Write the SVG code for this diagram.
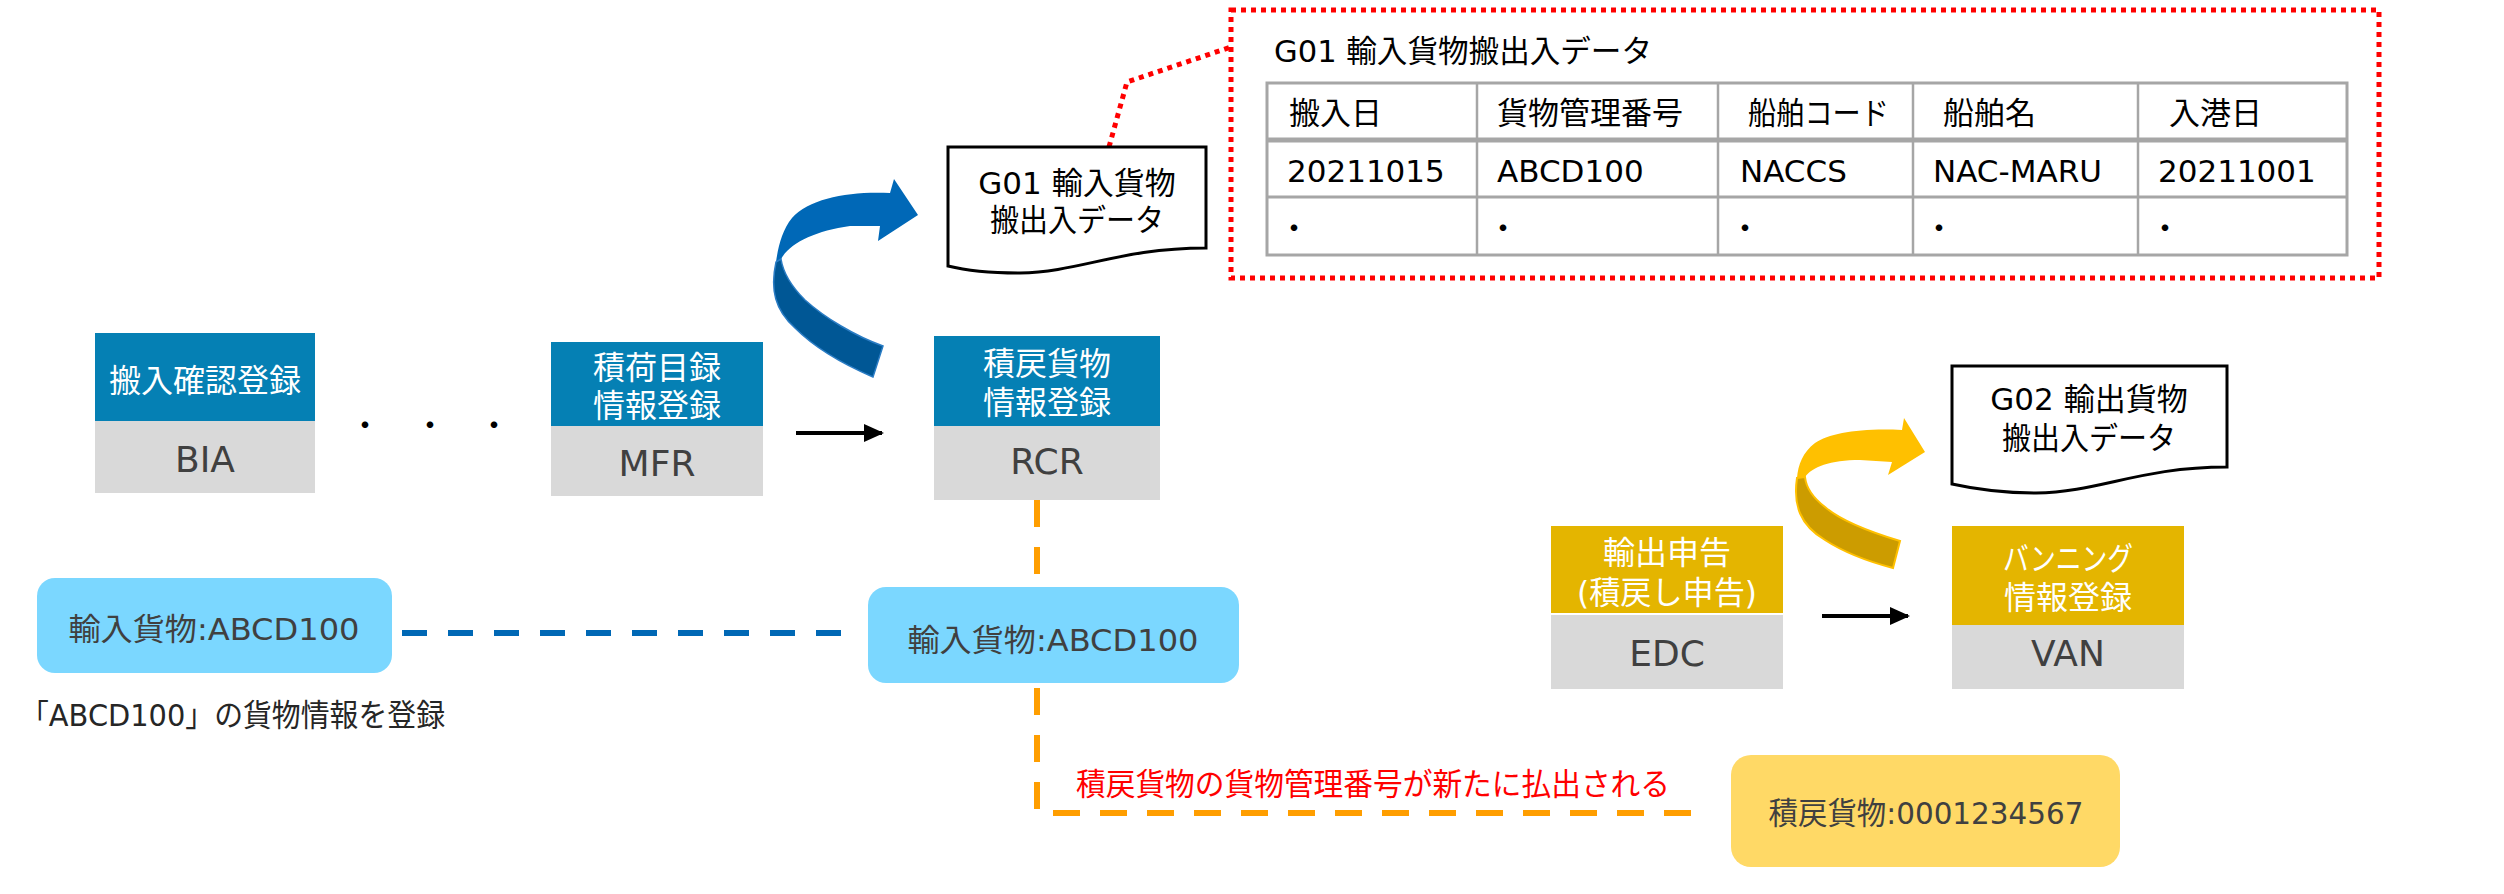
<svg xmlns="http://www.w3.org/2000/svg" width="2504" height="894" viewBox="0 0 2504 894">
<style>
text{font-family:"DejaVu Sans","Noto Sans CJK JP",sans-serif}
.hd{fill:#fff;font-size:32px;text-anchor:middle}
.cd{fill:#404040;font-size:36px;text-anchor:middle}
.blue{fill:#0580B4}
.gold{fill:#E4B500}
.gray{fill:#D9D9D9}
.doc{fill:#fff;stroke:#000;stroke-width:3}
.dt{fill:#000;font-size:31px;text-anchor:middle}
.tb{fill:#000;font-size:31px}
.dot{fill:#000;font-size:31px;text-anchor:middle}
.pill{font-size:31px;fill:#404040;text-anchor:middle}
.tl{stroke:#A6A6A6;fill:none}
</style>
<defs>
<marker id="ah" markerUnits="userSpaceOnUse" markerWidth="20" markerHeight="18" refX="18" refY="9" orient="auto">
<path d="M0,0 L20,9 L0,18 Z" fill="#000"/>
</marker>
</defs>

<g id="connectors">
<path d="M1037,500 V813 H1711" fill="none" stroke="#FF9E00" stroke-width="6" stroke-dasharray="27 20"/>
<path d="M402,633 H851" fill="none" stroke="#0068B5" stroke-width="6" stroke-dasharray="25 21"/>
<path d="M796,433 H882" stroke="#000" stroke-width="4" marker-end="url(#ah)"/>
<path d="M1822,616 H1908" stroke="#000" stroke-width="4" marker-end="url(#ah)"/>
<path d="M1109,147 L1127,82 L1231,47" fill="none" stroke="#FF0000" stroke-width="5" stroke-dasharray="5 5"/>
<g id="blue-arrow">
<path d="M890,193 C850,191 810,198 792,218 C782,230 778,248 776,262 L781,259 C790,243 815,231 850,226 L880,226 L878,241 L918,215 L894,179 Z" fill="#0068B7"/>
<path d="M776,262 C770,290 775,310 795,328 C815,348 845,365 873,377 L883,346 C855,336 825,318 805,300 C790,285 783,272 781,259 Z" fill="#005795" stroke="#2a7cc4" stroke-width="1.5"/>
</g>
<g id="gold-arrow">
<path d="M1902,430 C1860,428 1830,433 1815,443 C1803,452 1798,465 1797,478 L1805,477 C1812,467 1830,460 1860,460 L1892,462 L1888,475 L1925,452 L1904,418 Z" fill="#FFC000"/>
<path d="M1797,478 C1793,505 1800,525 1825,540 C1845,553 1870,562 1893,568 L1900,541 C1870,532 1840,520 1825,507 C1812,497 1806,487 1805,477 Z" fill="#CC9C00" stroke="#FFC000" stroke-width="2"/>
</g>
</g>

<g id="node-BIA">
<rect class="blue" x="95" y="333" width="220" height="88"/>
<rect class="gray" x="95" y="421" width="220" height="72"/>
<text class="hd" x="205" y="392">搬入確認登録</text>
<text class="cd" x="205" y="472">BIA</text>
</g>

<g id="dots">
<text class="dot" x="365" y="436" font-size="32">・</text>
<text class="dot" x="430" y="436" font-size="32">・</text>
<text class="dot" x="494" y="436" font-size="32">・</text>
</g>

<g id="node-MFR">
<rect class="blue" x="551" y="342" width="212" height="84"/>
<rect class="gray" x="551" y="426" width="212" height="70"/>
<text class="hd" x="657" y="379">積荷目録</text>
<text class="hd" x="657" y="417">情報登録</text>
<text class="cd" x="657" y="476">MFR</text>
</g>

<g id="node-RCR">
<rect class="blue" x="934" y="336" width="226" height="90"/>
<rect class="gray" x="934" y="426" width="226" height="74"/>
<text class="hd" x="1047" y="375">積戻貨物</text>
<text class="hd" x="1047" y="414">情報登録</text>
<text class="cd" x="1047" y="474">RCR</text>
</g>

<g id="doc-G01">
<path class="doc" d="M948,147 H1206 V248 C1120,248 1080,272 1020,273 C985,273 960,269 948,266 Z"/>
<text class="dt" x="1077" y="194">G01 輸入貨物</text>
<text class="dt" x="1077" y="231" textLength="174" lengthAdjust="spacingAndGlyphs">搬出入データ</text>
</g>

<g id="table-G01">
<rect x="1231" y="10" width="1148" height="268" fill="none" stroke="#FF0000" stroke-width="5" stroke-dasharray="5 5"/>
<text class="tb" x="1274" y="62" textLength="378" lengthAdjust="spacingAndGlyphs">G01 輸入貨物搬出入データ</text>
<rect class="tl" x="1267" y="83" width="1080" height="172" stroke-width="3"/>
<path class="tl" d="M1267,140 H2347" stroke-width="5"/>
<path class="tl" d="M1267,197 H2347" stroke-width="3"/>
<path class="tl" d="M1477,83 V255 M1718,83 V255 M1913,83 V255 M2138,83 V255" stroke-width="2.5"/>
<text class="tb" x="1289" y="124">搬入日</text>
<text class="tb" x="1497" y="124">貨物管理番号</text>
<text class="tb" x="1748" y="124" textLength="141" lengthAdjust="spacingAndGlyphs">船舶コード</text>
<text class="tb" x="1943" y="124">船舶名</text>
<text class="tb" x="2169" y="124">入港日</text>
<text class="tb" x="1287" y="182">20211015</text>
<text class="tb" x="1497" y="182">ABCD100</text>
<text class="tb" x="1740" y="182">NACCS</text>
<text class="tb" x="1933" y="182">NAC-MARU</text>
<text class="tb" x="2158" y="182">20211001</text>
<text class="dot" x="1294" y="239">・</text>
<text class="dot" x="1503" y="239">・</text>
<text class="dot" x="1745" y="239">・</text>
<text class="dot" x="1939" y="239">・</text>
<text class="dot" x="2165" y="239">・</text>
</g>

<g id="node-EDC">
<rect class="gold" x="1551" y="526" width="232" height="87"/>
<rect class="gray" x="1551" y="615" width="232" height="74"/>
<text class="hd" x="1667" y="564">輸出申告</text>
<text class="hd" x="1667" y="604" textLength="180" lengthAdjust="spacingAndGlyphs">(積戻し申告)</text>
<text class="cd" x="1667" y="666">EDC</text>
</g>

<g id="node-VAN">
<rect class="gold" x="1952" y="526" width="232" height="99"/>
<rect class="gray" x="1952" y="625" width="232" height="64"/>
<text class="hd" x="2068" y="570" textLength="130" lengthAdjust="spacingAndGlyphs">バンニング</text>
<text class="hd" x="2068" y="609">情報登録</text>
<text class="cd" x="2068" y="666">VAN</text>
</g>

<g id="doc-G02">
<path class="doc" d="M1952,366 H2227 V467 C2140,467 2100,492 2036,493 C1995,493 1970,488 1952,484 Z"/>
<text class="dt" x="2089" y="410">G02 輸出貨物</text>
<text class="dt" x="2089" y="449" textLength="174" lengthAdjust="spacingAndGlyphs">搬出入データ</text>
</g>

<g id="pill-import-left">
<rect x="37" y="578" width="355" height="95" rx="18" fill="#7BD7FF"/>
<text class="pill" x="214" y="640" textLength="291" lengthAdjust="spacingAndGlyphs">輸入貨物:ABCD100</text>
</g>
<g id="note-register">
<text x="20" y="726" font-size="31" fill="#262626" textLength="425" lengthAdjust="spacingAndGlyphs">「ABCD100」の貨物情報を登録</text>
</g>

<g id="pill-import-right">
<rect x="868" y="587" width="371" height="96" rx="18" fill="#7BD7FF"/>
<text class="pill" x="1053" y="651" textLength="291" lengthAdjust="spacingAndGlyphs">輸入貨物:ABCD100</text>
</g>

<g id="note-new-number">
<text x="1076" y="795" font-size="31" fill="#FF0000" textLength="594" lengthAdjust="spacingAndGlyphs">積戻貨物の貨物管理番号が新たに払出される</text>
</g>

<g id="pill-reexport">
<rect x="1731" y="755" width="389" height="112" rx="20" fill="#FFD966"/>
<text class="pill" x="1926" y="824" textLength="315" lengthAdjust="spacingAndGlyphs">積戻貨物:0001234567</text>
</g>
</svg>
